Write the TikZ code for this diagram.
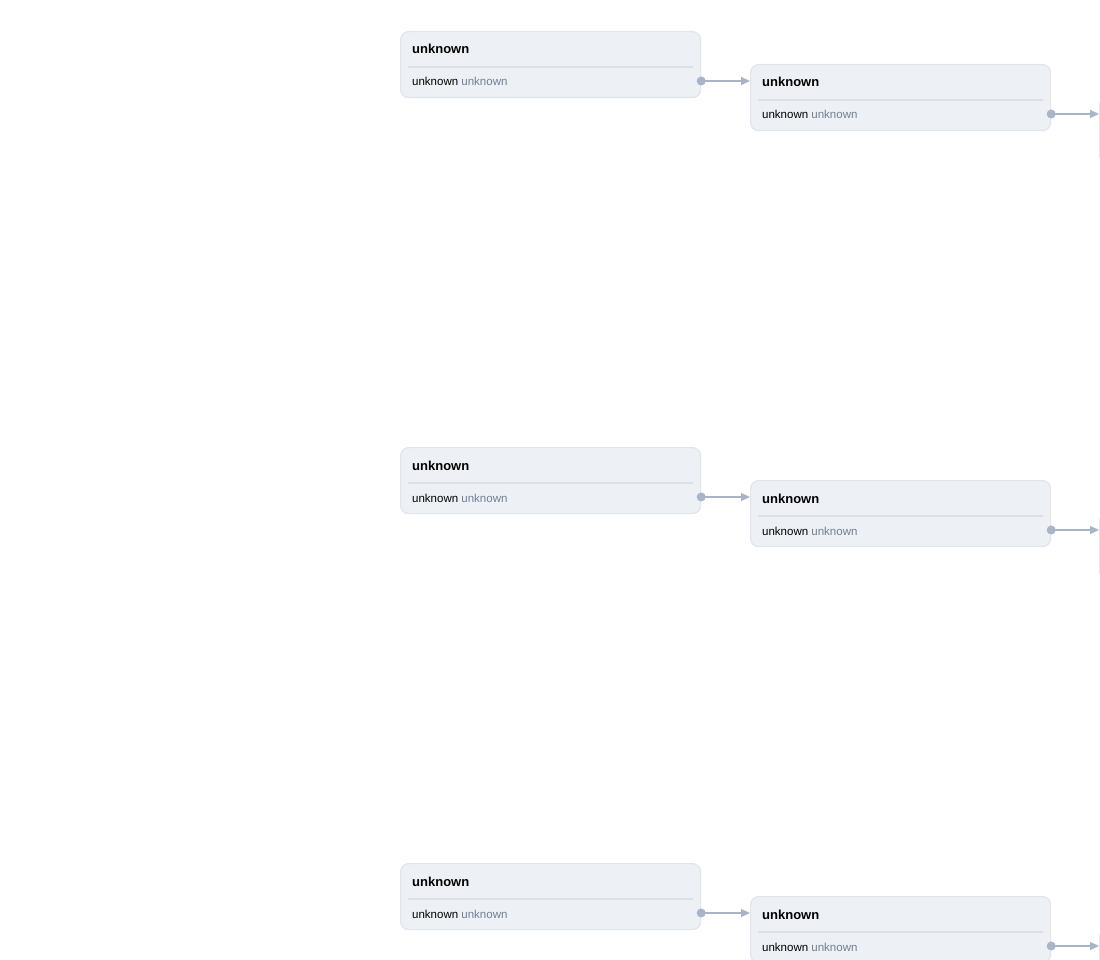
\documentclass[tikz,border=0pt]{standalone}
\usepackage{fontspec}
\setmainfont{Liberation Sans}
\usetikzlibrary{calc,arrows.meta}
\definecolor{boxfill}{HTML}{EDF0F4}
\definecolor{boxline}{HTML}{E1E5EB}
\definecolor{sepline}{HTML}{DCE0E6}
\definecolor{graytext}{HTML}{718096}
\definecolor{conn}{HTML}{A9B5C6}
\tikzset{
  card/.style={draw=boxline, fill=boxfill, line width=1.2pt, rounded corners=8pt,
    minimum width=300pt, minimum height=66pt, inner sep=0pt, anchor=north west},
  title/.style={anchor=base west, inner sep=0pt, font=\fontsize{13}{15}\selectfont\bfseries, text=black},
  field/.style={anchor=base west, inner sep=0pt, font=\fontsize{11.5}{14}\selectfont, text=black},
  sep/.style={draw=sepline, line width=1.5pt},
  link/.style={draw=conn, line width=1.5pt, -{Triangle[length=9pt,width=8pt]}},
  dot/.style={circle, fill=conn, inner sep=0pt, minimum size=9pt}
}
\newcommand{\card}[3]{%
  \node[card] (#1) at (#2,#3) {};
  \node[title] (#1t) at ($(#1.north west)+(12,23)$) {unknown};
  \draw[sep] ($(#1.north west)+(8,36)$) -- ($(#1.north east)+(-8,36)$);
  \node[field] (#1f) at ($(#1.north west)+(12,55)$) {unknown \textcolor{graytext}{unknown}};
  \coordinate (#1in) at ($(#1.north west)+(0,17)$);
  \coordinate (#1out) at ($(#1.north east)+(0,50)$);
}
\newcommand{\edgecard}[3]{%
  \node[card] (#1) at (#2,#3) {};
  \coordinate (#1in) at ($(#1.north west)+(0,17)$);
}
\begin{document}
\begin{tikzpicture}[x=1pt,y=-1pt]
\useasboundingbox (0,0) rectangle (1100,960);
\clip (0,0) rectangle (1100,960);
\foreach \g/\dy in {1/0,2/416,3/832}{
  \card{a\g}{400}{31+\dy}
  \card{b\g}{750}{64+\dy}
  \edgecard{c\g}{1099}{97+\dy}
  \draw[link] (a\g out) -- (b\g in);
  \draw[link] (b\g out) -- (c\g in);
  \node[dot] (a\g d) at (a\g out) {};
  \node[dot] (b\g d) at (b\g out) {};
}
\end{tikzpicture}
\end{document}
